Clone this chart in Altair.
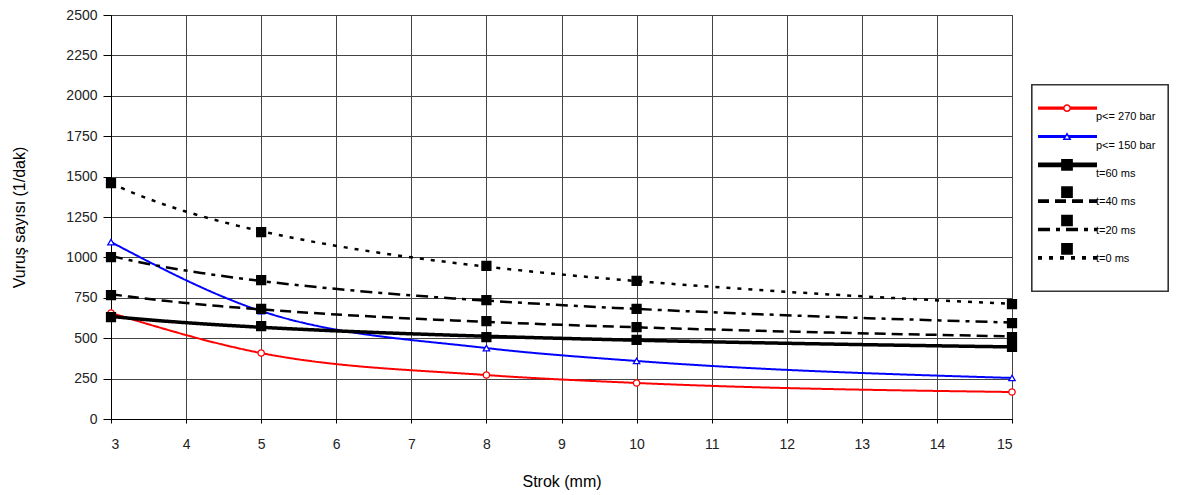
import altair as alt
import pandas as pd

x_vals = [3, 5, 8, 10, 15]
series_names = ["p<= 270 bar", "p<= 150 bar", "t=60 ms", "t=40 ms", "t=20 ms", "t=0 ms"]
p270 = [656, 408, 272, 223, 167]
p150 = [1095, 668, 439, 359, 254]
t60 = [631, 575, 507, 489, 446]
t40 = [767, 681, 606, 569, 507]
t20 = [1002, 860, 736, 681, 594]
t0 = [1460, 1157, 947, 854, 711]

colors = ["#ff0000", "#0000ff", "#000000", "#000000", "#000000", "#000000"]
dashes = [[1, 0], [1, 0], [1, 0], [11, 6], [12, 6, 4, 6], [4, 7]]
widths = [2, 2, 3.5, 2.5, 2.5, 2.5]
shapes = ["circle", "triangle-up", "square", "square", "square", "square"]
fills = ["#ffffff", "#ffffff", "#000000", "#000000", "#000000", "#000000"]
msizes = [40, 40, 80, 80, 80, 80]
smoothed = [True, True, False, False, False, False]

rows = []
for name, vals in zip(series_names, [p270, p150, t60, t40, t20, t0]):
    for xv, yv in zip(x_vals, vals):
        rows.append({"x": xv, "y": yv, "series": name})
df = pd.DataFrame(rows)

x_enc = alt.X("x:Q", scale=alt.Scale(domain=[3, 15], nice=False),
              axis=alt.Axis(values=list(range(3, 16)), title="Strok (mm)", format="d"))
y_enc = alt.Y("y:Q", scale=alt.Scale(domain=[0, 2500], nice=False),
              axis=alt.Axis(values=list(range(0, 2501, 250)), format="d",
                            title="Vuruş sayısı  (1/dak)"))

base = alt.Chart(df)
data_layers = []
for i, name in enumerate(series_names):
    sub = base.transform_filter(alt.datum.series == name)
    if smoothed[i]:
        ln = sub.mark_line(interpolate="monotone", color=colors[i],
                           strokeWidth=widths[i], strokeDash=dashes[i])
    else:
        ln = sub.transform_regression("x", "y", method="pow").mark_line(
            color=colors[i], strokeWidth=widths[i], strokeDash=dashes[i])
    data_layers.append(ln.encode(x=x_enc, y=y_enc))
for i, name in enumerate(series_names):
    sub = base.transform_filter(alt.datum.series == name)
    pt = sub.mark_point(shape=shapes[i], color=colors[i], fill=fills[i],
                        filled=False, strokeWidth=1.3, opacity=1,
                        fillOpacity=1, size=msizes[i])
    data_layers.append(pt.encode(x=x_enc, y=y_enc))
main = alt.layer(*data_layers)

# manual legend (Excel style), positioned in pixels beside the plot area
leg_df = pd.DataFrame({"series": series_names})
leg_y = alt.Y("series:N", scale=alt.Scale(domain=series_names, range=[88, 258], type="point"),
              axis=None)
leg_base = alt.Chart(leg_df)
leg_layers = [leg_base.mark_rect(
    fill="#ffffff", stroke="#333333", strokeWidth=1.2
).encode(x=alt.value(921), x2=alt.value(1057), y=alt.value(70), y2=alt.value(276))]
for i, name in enumerate(series_names):
    sub = leg_base.transform_filter(alt.datum.series == name)
    line_off = -9 if i < 3 else -1
    mark_off = -9 if i < 3 else -10
    lw = widths[i] + 1.2
    leg_layers.append(sub.mark_rule(color=colors[i], strokeWidth=lw, strokeDash=dashes[i]).encode(
        x=alt.value(927), x2=alt.value(986), y=leg_y, yOffset=alt.value(line_off)))
    leg_layers.append(sub.mark_point(shape=shapes[i], color=colors[i], fill=fills[i],
                                     filled=False, strokeWidth=1.5, opacity=1, fillOpacity=1,
                                     size=msizes[i] * (1.3 if i >= 2 else 1)).encode(
        x=alt.value(956), y=leg_y, yOffset=alt.value(mark_off)))
leg_layers.append(leg_base.mark_text(align="left", baseline="middle", font="Liberation Sans",
                                     fontSize=11, color="#000000").encode(
    x=alt.value(985), y=leg_y, text="series:N"))
legend = alt.layer(*leg_layers)

chart = alt.layer(main, legend).resolve_scale(y="independent").properties(
    width=901, height=404,
    padding={"left": 3, "top": 0, "right": 0, "bottom": 5},
).configure_view(
    stroke="#333333", strokeWidth=1
).configure_axis(
    grid=True, gridColor="#444444", gridWidth=1, gridOpacity=1,
    domainColor="#000000", tickColor="#000000", tickSize=6,
    labelFont="Liberation Sans", labelFontSize=14, labelColor="#222222",
    titleFont="Liberation Sans", titleFontSize=16, titleFontWeight="normal",
    titleColor="#000000", labelPadding=4,
).configure_axisY(
    titlePadding=38, tickSize=8, labelPadding=6
).configure_axisX(
    titlePadding=22, tickSize=4, labelPadding=14
)

chart.save("out.html", embed_options={"renderer": "svg", "actions": False})
